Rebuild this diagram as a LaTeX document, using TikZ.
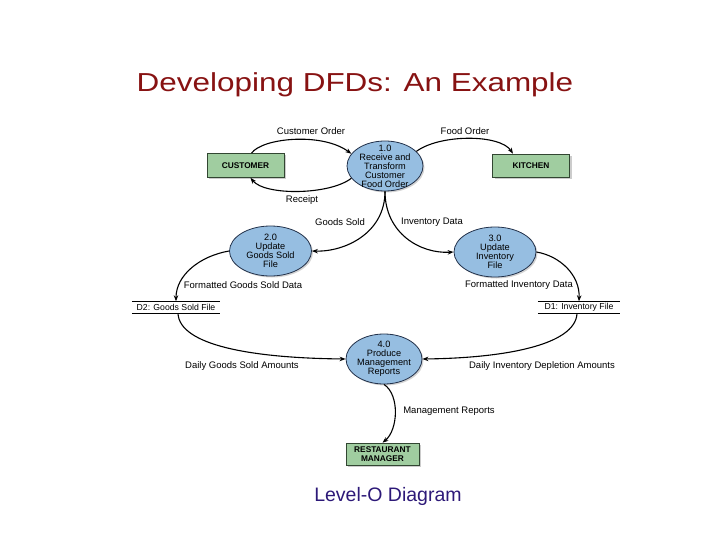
\documentclass[tikz,border=0pt]{standalone}
\usepackage{fontspec}
\setmainfont{Liberation Sans}
\usetikzlibrary{shapes.geometric,shadows,arrows.meta}
\definecolor{titlered}{RGB}{135,18,18}
\definecolor{subblue}{RGB}{45,25,120}
\definecolor{procfill}{RGB}{150,190,225}
\definecolor{procline}{RGB}{35,50,75}
\definecolor{entfill}{RGB}{160,205,160}
\definecolor{entline}{RGB}{50,70,50}
\begin{document}
\begin{tikzpicture}[x=1pt,y=-1pt,
  proc/.style={ellipse, draw=procline, line width=0.8pt, fill=procfill,
    minimum width=78pt, minimum height=50pt, inner sep=0pt,
    drop shadow={shadow xshift=1.5pt, shadow yshift=-1.5pt, opacity=0.35}},
  proctext/.style={align=center, inner sep=0pt, font=\fontsize{9.2}{9}\selectfont},
  ent/.style={rectangle, draw=entline, line width=0.6pt, fill=entfill,
    minimum width=77pt, minimum height=24pt, inner sep=0pt, align=center,
    font=\fontsize{8.3}{9}\selectfont\bfseries,
    drop shadow={shadow xshift=2pt, shadow yshift=-2pt, opacity=0.4}},
  store/.style={minimum width=88pt, minimum height=11pt, inner sep=0pt,
    font=\fontsize{8.7}{9}\selectfont},
  storeline/.style={line width=1pt},
  lbl/.style={font=\fontsize{9.5}{10}\selectfont, inner sep=0pt},
  flow/.style={line width=1.1pt, -{Stealth[length=6pt,width=4.5pt]}},
]
\useasboundingbox (0,0) rectangle (720,540);

% title and caption
\node[anchor=base, text=titlered, font=\fontsize{26}{30}\selectfont] (title) at (355,91.7)
  {\scalebox{1.21}[1]{Developing DFDs: An Example}};
\node[text=subblue, font=\fontsize{19.5}{22}\selectfont] (caption) at (388,496) {Level-O Diagram};

% external entities
\node[ent] (cust) at (245.5,165.5) {CUSTOMER};
\node[ent, minimum height=23pt] (kitch) at (531,165.5) {KITCHEN};
\node[ent, minimum width=73pt, minimum height=22pt] (rm) at (382.5,454) {RESTAURANT\\MANAGER};

% processes
\node[proc, minimum width=76pt, label={[proctext]center:{1.0\\Receive and\\Transform\\Customer\\Food Order}}] (e1) at (385,166) {};
\node[proc, minimum width=82pt, label={[proctext]center:{2.0\\Update\\Goods Sold\\File}}] (e2) at (270.5,251) {};
\node[proc, minimum width=82pt, label={[proctext]center:{3.0\\Update\\Inventory\\File}}] (e3) at (495,252) {};
\node[proc, minimum width=76pt, label={[proctext]center:{4.0\\Produce\\Management\\Reports}}] (e4) at (384,359) {};

% data stores
\node[store, minimum height=12pt] (d2) at (176,307.5) {D2: Goods Sold File};
\node[store, minimum height=12pt, minimum width=82pt] (d1) at (579,307.5) {D1: Inventory File};
\draw[storeline] (d2.north west) -- (d2.north east) (d2.south west) -- (d2.south east);
\draw[storeline] (d1.north west) -- (d1.north east) (d1.south west) -- (d1.south east);

% flows
\draw[flow] ([xshift=6pt]cust.north) .. controls (262,138) and (322,132) .. (e1.160);
\draw[flow] (e1.200) .. controls (330,195) and (265,196) .. ([xshift=5pt]cust.south);
\draw[flow] (e1.25) .. controls (440,134) and (500,134) .. ([xshift=-18pt]kitch.north);
\draw[flow] (e1.south) .. controls (385,233) and (345,252) .. (e2.east);
\draw[flow] (e1.south) .. controls (385,233) and (420,254) .. (e3.west);
\draw[flow] (e2.west) .. controls (200,256) and (176,275) .. (d2.north);
\draw[flow] (e3.east) .. controls (560,256) and (580,275) .. (d1.north);
\draw[flow] ([xshift=2pt]d2.south) .. controls (180,345) and (250,358) .. (e4.west);
\draw[flow] ([xshift=-2pt]d1.south) .. controls (575,345) and (505,358) .. (e4.east);
\draw[flow] (e4.south) .. controls (400,395) and (398,430) .. (rm.north);

% flow labels
\node[lbl] (lco) at (311,131) {Customer Order};
\node[lbl] (lfo) at (465,131) {Food Order};
\node[lbl] (lre) at (302,200) {Receipt};
\node[lbl] (lgs) at (340,222) {Goods Sold};
\node[lbl] (lid) at (432,222) {Inventory Data};
\node[lbl] (lfg) at (243,285) {Formatted Goods Sold Data};
\node[lbl] (lfi) at (519,285) {Formatted Inventory Data};
\node[lbl] (ldg) at (242,366) {Daily Goods Sold Amounts};
\node[lbl] (ldi) at (542,366) {Daily Inventory Depletion Amounts};
\node[lbl] (lmr) at (449,411) {Management Reports};
\end{tikzpicture}
\end{document}
